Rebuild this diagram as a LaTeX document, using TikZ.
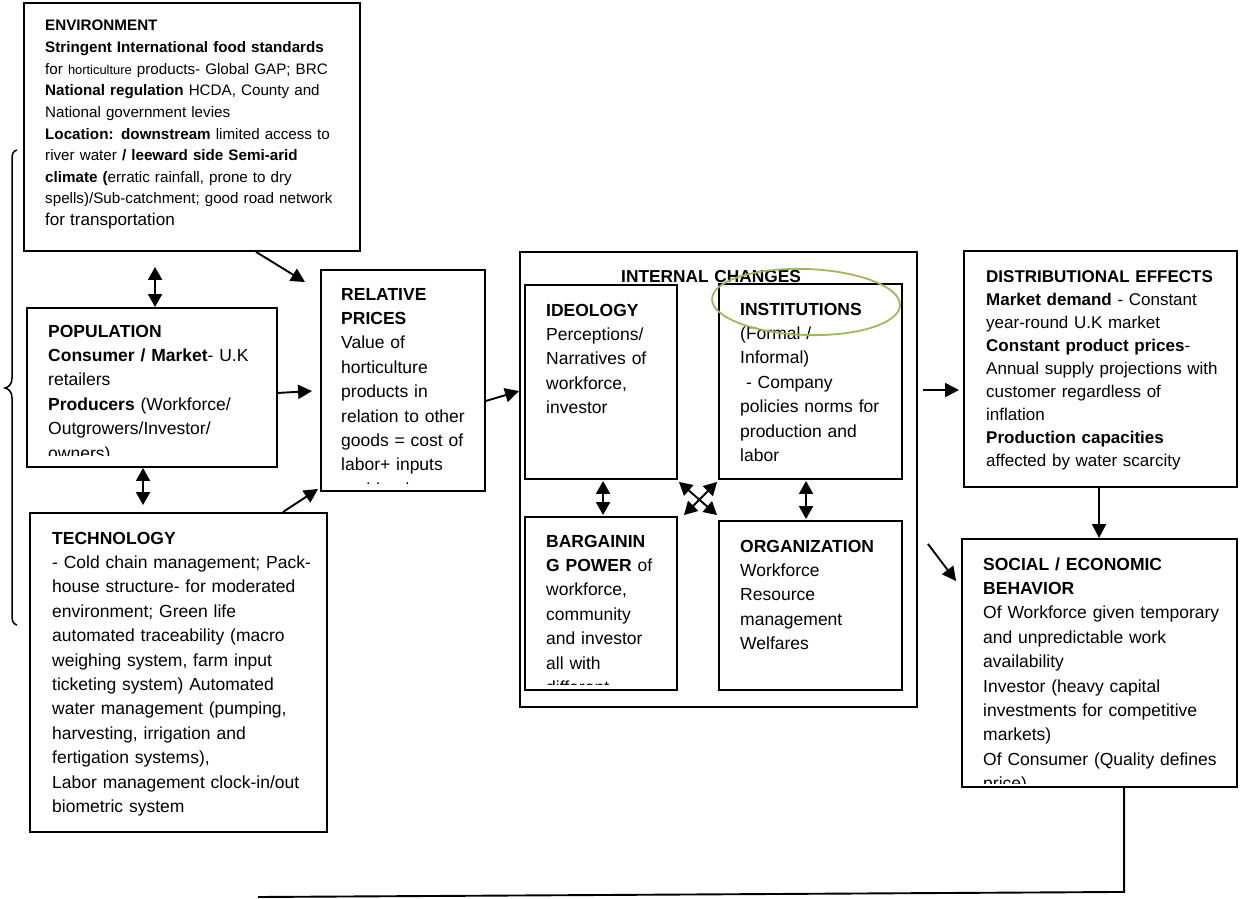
\documentclass[tikz,border=0pt]{standalone}
\usepackage{fontspec}
\setmainfont{Liberation Sans}
\usetikzlibrary{arrows.meta,calc,fit}
\begin{document}
\begin{tikzpicture}[x=1pt,y=-1pt,
  box/.style={draw, line width=1.9pt, inner sep=0pt},
  txt/.style={anchor=base west, align=left, inner sep=0pt, text width=330pt,
    font=\fontsize{17.5}{24.4}\selectfont},
  arr/.style={line width=1.9pt, -{Triangle[length=14pt,width=14pt]}},
  dbl/.style={line width=1.9pt, {Triangle[length=13pt,width=14pt]}-{Triangle[length=13pt,width=14pt]}},
  link/.style={line width=1.9pt}]
\useasboundingbox (0,0) rectangle (1240,899);
\fill[white] (0,0) rectangle (1240,899);

% boxes
\node[box, fit={(24,3) (360,251)}] (env) {};
\node[box, fit={(27,308) (277,467)}] (pop) {};
\node[box, fit={(30,513) (327,832)}] (tech) {};
\node[box, fit={(321,270) (485,491)}] (rp) {};
\node[box, fit={(520,252) (917,707)}] (int) {};
\node[box, fit={(525,285) (677,479)}] (ideo) {};
\node[box, fit={(719,284) (902,479)}] (inst) {};
\node[box, fit={(525,517) (677,690)}] (barg) {};
\node[box, fit={(719,521) (902,690)}] (org) {};
\node[box, fit={(964,251) (1237,487)}] (dist) {};
\node[box, fit={(962,539) (1237,787)}] (soc) {};

% texts
\node[txt, font=\fontsize{15.2}{21.6}\selectfont] (envt) at (45,31) {\textbf{ENVIRONMENT}\\
\textbf{Stringent International food standards}\\
for {\fontsize{12.9}{21.6}\selectfont horticulture} products- Global GAP; BRC\\
\textbf{National regulation} HCDA, County and\\
National government levies\\
\textbf{Location: downstream} limited access to\\
river water \textbf{/ leeward side Semi-arid}\\
\textbf{climate (}erratic rainfall, prone to dry\\
spells)/Sub-catchment; good road network\\
{\fontsize{17.1}{21.6}\selectfont for transportation}};

\begin{scope}
\clip (27,308) rectangle (277,455);
\node[txt] (popt) at (48,337) {\textbf{POPULATION}\\
\textbf{Consumer / Market}- U.K\\
retailers\\
\textbf{Producers} (Workforce/\\
Outgrowers/Investor/\\
owners)};
\end{scope}

\node[txt] (techt) at (52,544) {\textbf{TECHNOLOGY}\\
- Cold chain management; Pack-\\
house structure- for moderated\\
environment; Green life\\
automated traceability (macro\\
weighing system, farm input\\
ticketing system) Automated\\
water management (pumping,\\
harvesting, irrigation and\\
fertigation systems),\\
Labor management clock-in/out\\
biometric system};

\begin{scope}
\clip (321,270) rectangle (485,483);
\node[txt] (rpt) at (341,300) {\textbf{RELATIVE}\\
\textbf{PRICES}\\
Value of\\
horticulture\\
products in\\
relation to other\\
goods = cost of\\
labor+ inputs\\
and land};
\end{scope}

\node[txt] (intt) at (621,282) {\fontsize{17.3}{24}\selectfont\textbf{INTERNAL CHANGES}};

\node[txt] (ideot) at (546,316) {\textbf{IDEOLOGY}\\
Perceptions/\\
Narratives of\\
workforce,\\
investor};

\node[txt] (instt) at (740,315) {\textbf{INSTITUTIONS}\\
(Formal /\\
Informal)\\
\ - Company\\
policies norms for\\
production and\\
labor};

\begin{scope}
\clip (525,517) rectangle (677,684);
\node[txt] (bargt) at (546,547) {\textbf{BARGAININ}\\
\textbf{G POWER} of\\
workforce,\\
community\\
and investor\\
all with\\
different};
\end{scope}

\node[txt] (orgt) at (740,552) {\textbf{ORGANIZATION}\\
Workforce\\
Resource\\
management\\
Welfares};

\node[txt, font=\fontsize{17}{23.1}\selectfont] (distt) at (986,282) {\textbf{DISTRIBUTIONAL EFFECTS}\\
\textbf{Market demand} - Constant\\
year-round U.K market\\
\textbf{Constant product prices}-\\
Annual supply projections with\\
customer regardless of\\
inflation\\
\textbf{Production capacities}\\
affected by water scarcity};

\begin{scope}
\clip (962,539) rectangle (1237,783);
\node[txt] (soct) at (983,570) {\textbf{SOCIAL / ECONOMIC}\\
\textbf{BEHAVIOR}\\
Of Workforce given temporary\\
and unpredictable work\\
availability\\
Investor (heavy capital\\
investments for competitive\\
markets)\\
Of Consumer (Quality defines\\
price)};
\end{scope}

% green ellipse
\draw[color={rgb,255:red,155;green,187;blue,89}, line width=1.8pt, rotate around={-2:(806,302)}] (806,302) ellipse [x radius=94, y radius=33];

% connectors
\draw[dbl] ($(env.south west)+(132,15)$) -- ($(pop.north west)+(129,0)$);
\draw[dbl] ($(pop.south west)+(117,0)$) -- ($(tech.north west)+(114,-7)$);
\draw[arr] ($(env.south west)+(233,0)$) -- ($(rp.north west)+(-15,13)$);
\draw[arr] ($(pop.south east)+(0,-75)$) -- ($(rp.north west)+(-8,122)$);
\draw[arr] ($(tech.north east)+(-45,0)$) -- ($(rp.south west)+(-2,-3)$);
\draw[arr] ($(rp.south east)+(0,-91)$) -- ($(int.north west)+(0,140)$);
\draw[arr] ($(int.north east)+(5,139)$) -- ($(dist.north west)+(-4,140)$);
\draw[arr] ($(dist.south west)+(136,0)$) -- ($(soc.north west)+(138,0)$);
\draw[arr] ($(int.south east)+(10,-164)$) -- ($(soc.north west)+(-5,43)$);
\draw[dbl] ($(ideo.south west)+(79,1)$) -- ($(barg.north west)+(79,-1)$);
\draw[dbl] ($(inst.south west)+(88,1)$) -- ($(org.north west)+(88,-1)$);
\draw[dbl] ($(ideo.south east)+(1,2)$) -- ($(org.north west)+(-1,-5)$);
\draw[dbl] ($(inst.south west)+(-1,2)$) -- ($(barg.north east)+(6,-1)$);

% feedback line
\coordinate (fbend) at (258,897);
\draw[link] ($(soc.south west)+(163,0)$) -- ++(0,104) -- (fbend);

% left brace
\draw[line width=1.5pt] (17,150) .. controls (13,151) and (12,154) .. (12,160) -- (12,378) .. controls (12,384) and (9,387) .. (5,388) .. controls (9,389) and (12,392) .. (12,398) -- (12,615) .. controls (12,621) and (13,624) .. (17,625);
\end{tikzpicture}
\end{document}
